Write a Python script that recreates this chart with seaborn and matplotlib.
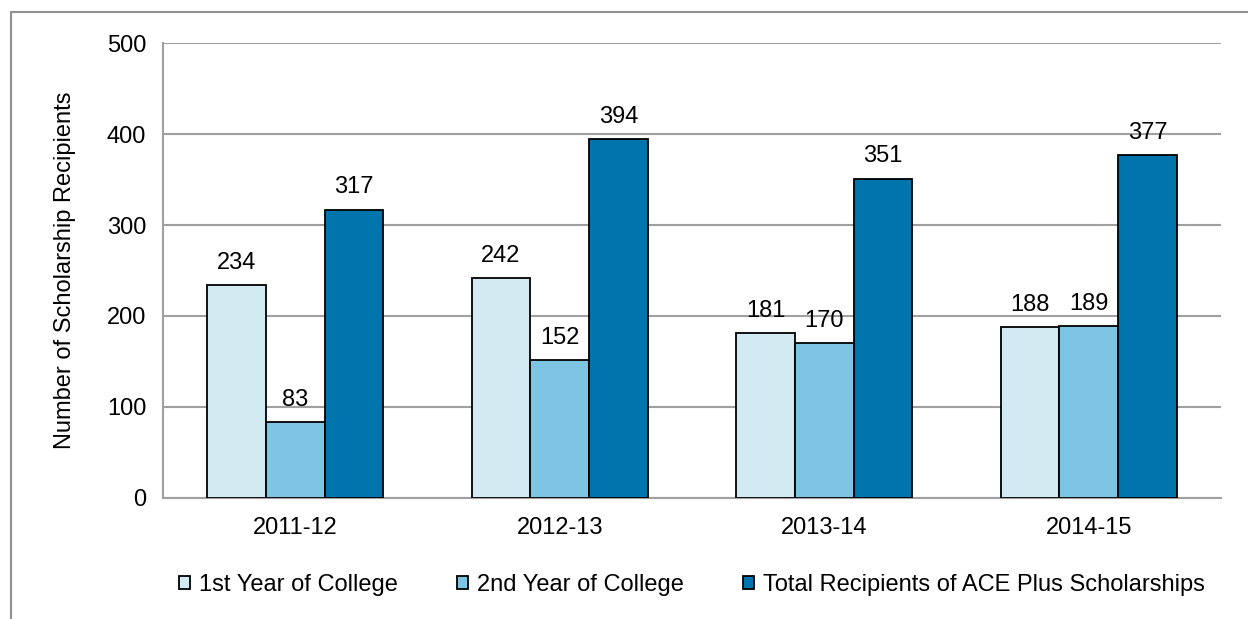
import pandas as pd
import numpy as np
import matplotlib
matplotlib.use('Agg')
import matplotlib.pyplot as plt
from matplotlib.lines import Line2D
import seaborn as sns

# data
years = ['2011-12', '2012-13', '2013-14', '2014-15']
first_year = [234, 242, 181, 188]
second_year = [83, 152, 170, 189]
total = [317, 394, 351, 377]
series = ['1st Year of College', '2nd Year of College',
          'Total Recipients of ACE Plus Scholarships']
colors = ['#D2EAF1', '#7DC5E3', '#0075AD']

df = pd.DataFrame({
    'year': years * 3,
    'count': first_year + second_year + total,
    'series': [series[0]] * 4 + [series[1]] * 4 + [series[2]] * 4,
})

sns.set_style('white')
plt.rcParams['font.family'] = ['Liberation Sans', 'DejaVu Sans']
plt.rcParams['font.size'] = 17
plt.rcParams['text.color'] = 'black'
plt.rcParams['axes.labelcolor'] = 'black'
plt.rcParams['xtick.labelcolor'] = 'black'
plt.rcParams['ytick.labelcolor'] = 'black'

fig = plt.figure(figsize=(12.48, 6.19), dpi=100)
ax = fig.add_axes([0.1306, 0.1955, 0.8478, 0.735])

sns.barplot(data=df, x='year', y='count', hue='series', palette=colors,
            width=0.667, gap=0, edgecolor='black', linewidth=1.3,
            saturation=1, ax=ax, zorder=3)

for c in ax.containers:
    ax.bar_label(c, padding=8, fontsize=17, color='black')

ax.set_ylim(0, 500)
ax.set_yticks(np.arange(0, 501, 100))
ax.set_xlim(-0.5, 3.5)
ax.set_xlabel('')
ax.set_ylabel('Number of Scholarship Recipients', fontsize=17, labelpad=22)

ax.yaxis.grid(True, color='#A0A0A0', linewidth=1.5, zorder=0)
ax.set_axisbelow(True)
for s in ['top', 'right']:
    ax.spines[s].set_visible(False)
for s in ['left', 'bottom']:
    ax.spines[s].set_color('#A0A0A0')
    ax.spines[s].set_linewidth(1.5)

ax.tick_params(axis='y', length=6, width=1.5, color='#A0A0A0', pad=6, labelsize=17)
ax.tick_params(axis='x', which='major', length=0, pad=14, labelsize=17)
ax.set_xticks(np.arange(-0.5, 4, 1), minor=True)
ax.tick_params(axis='x', which='minor', length=7, width=1.5, color='#A0A0A0')

leg = ax.legend(loc='upper center', bbox_to_anchor=(0.5, -0.12), ncol=3,
                frameon=False, fontsize=17, handlelength=0.45, handleheight=0.45,
                handletextpad=0.4, columnspacing=2.5)
for t in leg.get_texts():
    t.set_color('black')

# outer chart frame (only top and left visible)
fig.add_artist(Line2D([11 / 1248, 11 / 1248], [0, 1 - 12 / 619],
                      transform=fig.transFigure, color='#909090', linewidth=1.5))
fig.add_artist(Line2D([11 / 1248, 1], [1 - 12 / 619, 1 - 12 / 619],
                      transform=fig.transFigure, color='#909090', linewidth=1.5))

fig.savefig('out.png', dpi=100)
